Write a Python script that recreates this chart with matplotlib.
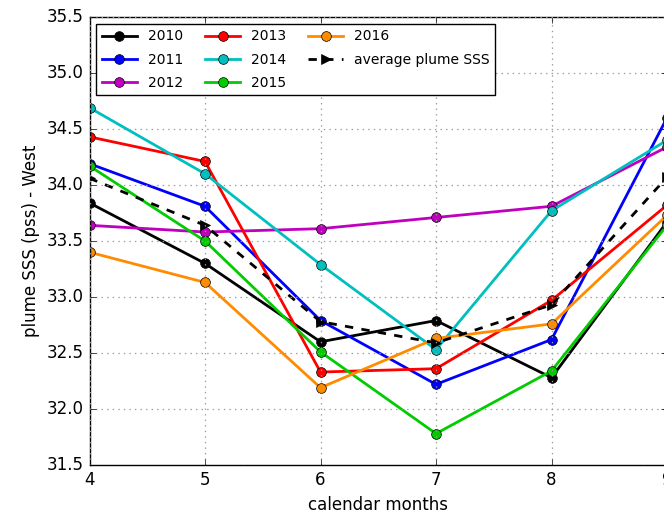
import matplotlib
matplotlib.use("Agg")
import matplotlib.pyplot as plt

# months and plume SSS values
months = [4, 5, 6, 7, 8, 9]
sss_2010 = [33.84, 33.30, 32.60, 32.79, 32.28, 33.67]
sss_2011 = [34.19, 33.81, 32.79, 32.22, 32.62, 34.60]
sss_2012 = [33.64, 33.58, 33.61, 33.71, 33.81, 34.34]
sss_2013 = [34.43, 34.21, 32.33, 32.36, 32.97, 33.82]
sss_2014 = [34.69, 34.10, 33.29, 32.53, 33.77, 34.40]
sss_2015 = [34.17, 33.50, 32.51, 31.78, 32.34, 33.64]
sss_2016 = [33.40, 33.13, 32.19, 32.63, 32.76, 33.73]
sss_avg = [34.06, 33.64, 32.78, 32.59, 32.93, 34.07]

years = ["2010", "2011", "2012", "2013", "2014", "2015", "2016"]
series = [sss_2010, sss_2011, sss_2012, sss_2013, sss_2014, sss_2015, sss_2016]
colors = ["k", "b", "m", "r", "c", (0.0, 0.8, 0.0), "darkorange"]

plt.style.use("classic")
plt.rcParams["font.family"] = ["DejaVu Sans"]

fig = plt.figure(figsize=(6.64, 5.15), dpi=100, facecolor="white")
ax = fig.add_axes([89.5 / 664, 50 / 515, 577.5 / 664, 448 / 515])

for yr, vals, c in zip(years, series, colors):
    ax.plot(months, vals, "-o", color=c, lw=2, ms=7, mec="k", mew=0.5, label=yr)

ax.plot(months, sss_avg, "--", color="k", lw=2, marker=">", ms=7, mec="k",
        label="average plume SSS")

ax.set_xlim(4, 9)
ax.set_ylim(31.5, 35.5)
ax.set_xticks(months)
ax.set_yticks([31.5, 32.0, 32.5, 33.0, 33.5, 34.0, 34.5, 35.0, 35.5])
ax.grid(True, color="0.6", linestyle=":", linewidth=0.9)
ax.set_xlabel("calendar months", fontsize=12)
ax.set_ylabel("plume SSS (pss) - West", fontsize=12)

ax.legend(loc="upper left", ncol=3, numpoints=1, fontsize=10,
          borderaxespad=0.5, columnspacing=1.6, handlelength=2.5,
          labelspacing=0.65, fancybox=False, framealpha=1)

fig.savefig("out.png", dpi=100, facecolor="white")
